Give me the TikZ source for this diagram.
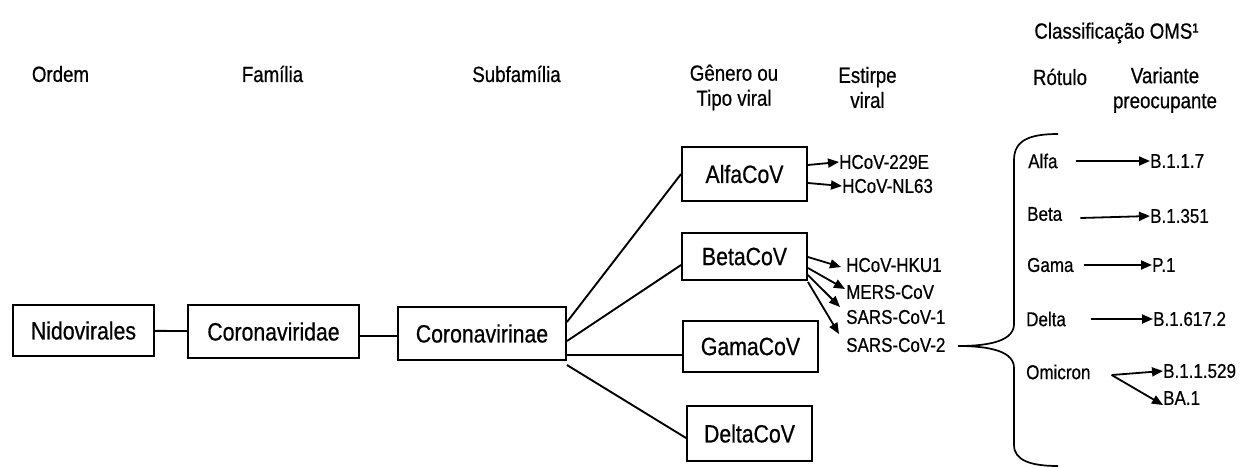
\documentclass[tikz,border=0pt]{standalone}
\usepackage{fontspec}
\setmainfont{Liberation Sans}[FakeStretch=0.85,FakeBold=0.6]
\usetikzlibrary{arrows.meta,calc}
\begin{document}
\begin{tikzpicture}[x=1pt,y=-1pt,
  box/.style={draw=black,line width=1.9pt,inner sep=0pt,font=\fontsize{25}{25}\selectfont},
  hdr/.style={inner sep=0pt,align=center,font=\fontsize{22}{25}\selectfont},
  lbl/.style={inner sep=0pt,anchor=west,font=\fontsize{20}{20}\selectfont},
  link/.style={line width=1.9pt},
  arr/.style={line width=1.8pt,-{Triangle[length=11pt,width=9pt]}},
  brace/.style={line width=1.7pt}
]
\useasboundingbox[fill=white] (0,0) rectangle (1246,467);

% headers
\node[hdr] (hOrdem) at (60.5,74) {Ordem};
\node[hdr] (hFam) at (272.5,74) {Família};
\node[hdr] (hSub) at (516.5,74) {Subfamília};
\node[hdr] (hGen) at (734,87.5) {Gênero ou\\Tipo viral};
\node[hdr] (hEst) at (867.5,87.5) {Estirpe\\viral};
\node[hdr] (hOMS) at (1116.5,33) {Classificação OMS¹};
\node[hdr] (hRot) at (1060,77) {Rótulo};
\node[hdr] (hVar) at (1165,90) {Variante\\preocupante};

% taxonomy boxes
\node[box,minimum width=141pt,minimum height=51pt] (nido) at (83.5,330.5) {Nidovirales};
\node[box,minimum width=171pt,minimum height=53pt] (corid) at (273.5,331.5) {Coronaviridae};
\node[box,minimum width=168pt,minimum height=53pt] (corin) at (482,333.5) {Coronavirinae};
\node[box,minimum width=125pt,minimum height=54pt] (alfa) at (744.5,174) {AlfaCoV};
\node[box,minimum width=125pt,minimum height=47pt] (beta) at (744.5,256.5) {BetaCoV};
\node[box,minimum width=135pt,minimum height=51pt] (gama) at (750.5,346.5) {GamaCoV};
\node[box,minimum width=125pt,minimum height=55pt] (delta) at (749.5,433.5) {DeltaCoV};

\draw[link] (nido) -- (corid);
\draw[link] (corid.east |- 0,336) -- (corin.west |- 0,336);
\draw[link] (corin.east |- 0,322) -- (alfa.west);
\draw[link] (corin.east |- 0,341) -- (beta.west |- 0,265);
\draw[link] (corin.east |- 0,355) -- (gama.west |- 0,355);
\draw[link] (corin.east |- 0,365) -- (delta.west |- 0,438);

% strains
\node[lbl] (s1) at (839,162) {HCoV-229E};
\node[lbl] (s2) at (842,186) {HCoV-NL63};
\node[lbl] (s3) at (846,265) {HCoV-HKU1};
\node[lbl] (s4) at (846,292) {MERS-CoV};
\node[lbl] (s5) at (846,317) {SARS-CoV-1};
\node[lbl] (s6) at (846,345) {SARS-CoV-2};

\draw[arr] (alfa.east |- 0,165) -- (s1.west);
\draw[arr] (alfa.east |- 0,183) -- (s2.west);
\draw[arr] (beta.east |- 0,257) -- ($(s3.west)+(-5,2)$);
\draw[arr] (beta.east |- 0,268) -- ($(s4.west)+(-1,-3)$);
\draw[arr] (beta.east |- 0,275) -- ($(s5.west)+(-6,-10)$);
\draw[arr] (beta.east |- 0,282) -- ($(s6.west)+(-7,-11)$);

% brace
\coordinate (tip) at (958,346);
\draw[brace] (1058,134) .. controls (1030,134) and (1014,140) .. (1014,160)
  -- (1014,324) .. controls (1014,340) and (992,346) .. (tip)
  .. controls (992,346) and (1014,352) .. (1014,368)
  -- (1014,445) .. controls (1014,460) and (1030,466) .. (1058,466);

% WHO labels
\node[lbl] (lA) at (1028,161) {Alfa};
\node[lbl] (lB) at (1027,214) {Beta};
\node[lbl] (lG) at (1027,265) {Gama};
\node[lbl] (lD) at (1026,319) {Delta};
\node[lbl] (lO) at (1026,372) {Omicron};

\node[lbl] (vA) at (1150,161) {B.1.1.7};
\node[lbl] (vB) at (1150,216) {B.1.351};
\node[lbl] (vG) at (1152,265) {P.1};
\node[lbl] (vD) at (1153,319) {B.1.617.2};
\node[lbl] (vO1) at (1163,371) {B.1.1.529};
\node[lbl] (vO2) at (1163,398) {BA.1};

\draw[arr] ($(lA.east)+(18,0)$) -- (vA.west);
\draw[arr] ($(lB.east)+(18,4)$) -- (vB.west);
\draw[arr] ($(lG.east)+(10,0)$) -- (vG.west);
\draw[arr] ($(lD.east)+(25,0)$) -- (vD.west);
\draw[arr] ($(lO.east)+(21,3)$) -- (vO1.west);
\draw[arr] ($(lO.east)+(21,3)$) -- ($(vO2.west)+(0,7)$);
\end{tikzpicture}
\end{document}
